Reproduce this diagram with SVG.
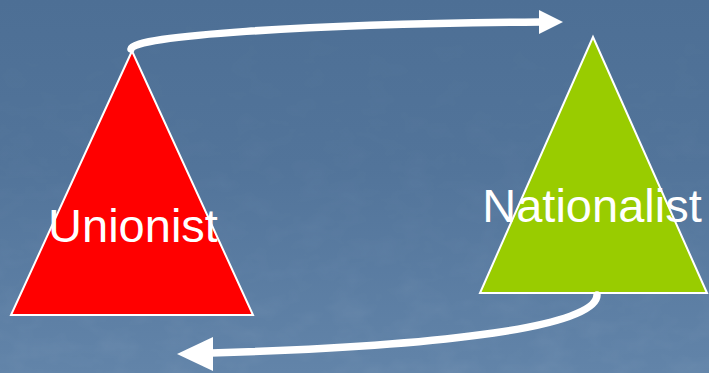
<svg xmlns="http://www.w3.org/2000/svg" width="709" height="373" viewBox="0 0 709 373">
<defs>
<linearGradient id="bg" x1="0" y1="0" x2="0" y2="1">
<stop offset="0" stop-color="#4d6f95"/>
<stop offset="0.45" stop-color="#52749a"/>
<stop offset="1" stop-color="#6284a9"/>
</linearGradient>
<filter id="tex" x="0" y="0" width="100%" height="100%">
<feTurbulence type="fractalNoise" baseFrequency="0.03 0.05" numOctaves="3" seed="4"/>
<feColorMatrix type="matrix" values="0 0 0 0 1  0 0 0 0 1  0 0 0 0 1  0 0 0 0.5 -0.2"/>
</filter>
<linearGradient id="fade" x1="0" y1="0" x2="0" y2="1">
<stop offset="0" stop-color="#fff" stop-opacity="0.05"/>
<stop offset="1" stop-color="#fff" stop-opacity="0.6"/>
</linearGradient>
<mask id="m"><rect width="709" height="373" fill="url(#fade)"/></mask>
</defs>
<style>
.tri{stroke:#ffffff;stroke-width:2;stroke-linejoin:miter}
.lbl{font-family:"Liberation Sans",Arial,sans-serif;font-size:47px;fill:#ffffff}
.shaft{fill:none;stroke:#ffffff;stroke-width:7.5;stroke-linecap:round}
.head{fill:#ffffff}
</style>
<rect width="709" height="373" fill="url(#bg)"/>
<rect width="709" height="373" filter="url(#tex)" mask="url(#m)" opacity="0.3"/>
<g id="unionist">
<polygon class="tri" points="132,51 253,315 11,315" fill="#ff0000"/>
<text class="lbl" x="133" y="242" text-anchor="middle">Unionist</text>
</g>
<g id="nationalist">
<polygon class="tri" points="593,37 707,293 480,293" fill="#99cc00"/>
<text class="lbl" x="592" y="222" text-anchor="middle">Nationalist</text>
</g>
<g id="connectors">
<path class="shaft" d="M131,49 C133,36 300,24 541,22"/>
<polygon class="head" points="539,10 563,22 539,34"/>
<path class="shaft" d="M597,295 C597,326 450,346 211,353"/>
<polygon class="head" points="213,337 177,354 213,371"/>
</g>
</svg>
